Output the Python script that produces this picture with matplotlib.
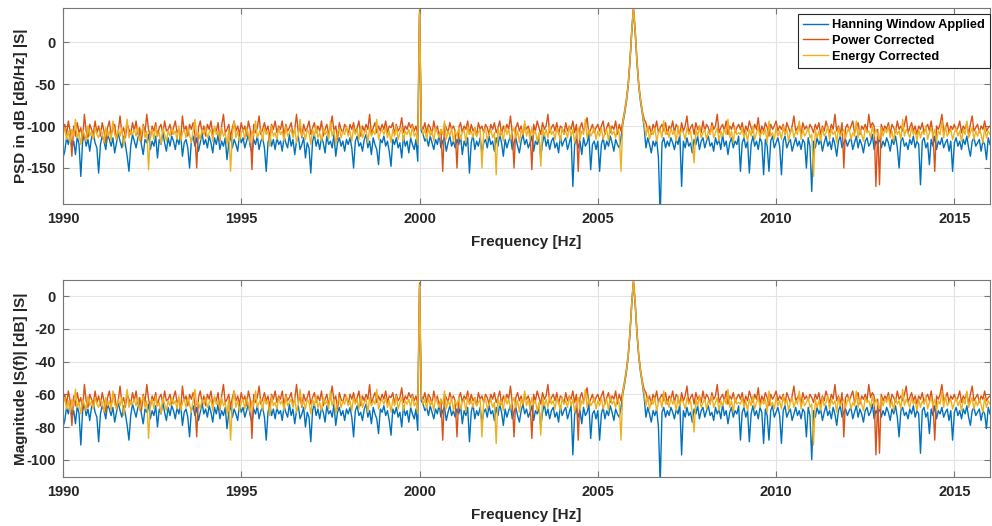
import numpy as np
import matplotlib
matplotlib.use('Agg')
import matplotlib.pyplot as plt

plt.rcParams['font.family'] = ['Liberation Sans', 'DejaVu Sans']
plt.rcParams['font.weight'] = 'bold'
plt.rcParams['axes.labelweight'] = 'bold'
plt.rcParams['axes.unicode_minus'] = False

# 频谱幅值 |S(f)| [dB]，频率分辨率 0.05 Hz，从 1990 Hz 开始
f0 = 1990.0
df = 0.05

mag_hanning = [
    -80, -76, -68, -72, -66, -74, -70, -78, -67, -72, -91, -70, -66, -73, -69, -76, -68, -65, -71, -74,
    -89, -72, -67, -70, -75, -66, -69, -73, -68, -77, -71, -65, -70, -74, -67, -72, -79, -88, -73, -66,
    -70, -74, -68, -65, -72, -78, -69, -71, -66, -75, -70, -73, -67, -80, -69, -72, -65, -71, -76, -68,
    -73, -67, -70, -75, -68, -72, -66, -79, -71, -69, -74, -86, -70, -67, -73, -68, -76, -71, -65, -72,
    -69, -74, -67, -71, -77, -68, -72, -66, -75, -70, -73, -68, -81, -71, -67, -74, -69, -72, -76, -66,
    -71, -68, -74, -70, -66, -73, -77, -69, -72, -67, -75, -70, -68, -74, -88, -71, -66, -73, -69, -75,
    -68, -72, -70, -76, -67, -71, -74, -66, -73, -69, -78, -70, -67, -75, -72, -68, -80, -71, -74, -89,
    -70, -66, -73, -69, -75, -68, -71, -77, -67, -72, -70, -74, -66, -79, -71, -68, -73, -70, -76, -69,
    -72, -68, -74, -86, -70, -67, -73, -71, -76, -69, -66, -74, -70, -78, -68, -72, -75, -84, -69, -71,
    -67, -73, -70, -76, -85, -69, -72, -68, -74, -71, -80, -67, -73, -70, -77, -68, -72, -75, -69, -82,
    5, -64, -66, -70, -68, -73, -67, -71, -75, -69, -72, -66, -74, -70, -68, -76, -71, -67, -73, -70,
    -74, -69, -72, -67, -78, -70, -73, -68, -89, -71, -66, -75, -70, -73, -68, -77, -71, -69, -74, -67,
    -72, -70, -76, -68, -73, -66, -71, -79, -69, -74, -70, -67, -75, -71, -68, -73, -77, -70, -66, -72,
    -69, -74, -71, -67, -76, -70, -72, -68, -80, -71, -66, -73, -69, -75, -70, -68, -74, -71, -77, -67,
    -73, -70, -68, -75, -71, -67, -97, -72, -69, -74, -70, -78, -68, -73, -71, -66, -87, -72, -70, -75,
    -70, -88, -72, -68, -75, -70, -73, -67, -71, -76, -69, -72, -74, -68, -60, -54, -47, -38, -24, -6,
    8, -6, -24, -38, -47, -54, -62, -74, -68, -72, -77, -70, -73, -69, -80, -115, -71, -68, -74, -70,
    -73, -68, -71, -75, -69, -72, -66, -97, -70, -74, -68, -73, -71, -77, -69, -72, -67, -75, -70, -68,
    -74, -70, -67, -73, -71, -76, -68, -72, -69, -75, -66, -73, -70, -78, -71, -68, -74, -70, -72, -67,
    -88, -71, -68, -74, -70, -89, -72, -67, -73, -70, -75, -68, -71, -90, -69, -73, -88, -70, -67, -74,
    -71, -68, -73, -90, -70, -67, -74, -71, -69, -76, -72, -68, -73, -70, -75, -69, -71, -86, -68, -73,
    -100, -70, -74, -68, -72, -69, -76, -71, -67, -73, -70, -75, -68, -72, -79, -70, -67, -74, -71, -69,
    -73, -70, -68, -75, -71, -67, -74, -69, -72, -77, -70, -68, -73, -71, -66, -75, -70, -72, -68, -74,
    -70, -73, -68, -71, -76, -69, -72, -67, -74, -86, -70, -68, -73, -71, -75, -69, -72, -67, -74, -70,
    -72, -96, -70, -68, -74, -71, -84, -69, -73, -67, -75, -70, -72, -68, -74, -71, -69, -76, -70, -88,
    -71, -68, -73, -70, -75, -69, -72, -67, -74, -79, -70, -68, -73, -71, -69, -76, -70, -72, -81, -68,
    -72,
]

mag_power = [
    -63, -60, -66, -58, -64, -79, -61, -67, -59, -65, -62, -70, -54, -64, -68, -60, -63, -66, -58, -65,
    -61, -67, -59, -64, -71, -62, -58, -66, -63, -60, -69, -64, -55, -65, -62, -68, -60, -63, -66, -59,
    -64, -58, -66, -62, -70, -60, -65, -54, -63, -68, -61, -64, -59, -67, -62, -60, -66, -58, -64, -63,
    -60, -66, -62, -58, -65, -63, -69, -55, -64, -61, -67, -60, -63, -59, -66, -86, -62, -58, -65, -61,
    -67, -60, -63, -58, -66, -62, -64, -59, -70, -61, -54, -65, -63, -60, -68, -62, -58, -64, -61, -66,
    -59, -64, -61, -67, -58, -63, -87, -60, -65, -62, -55, -66, -63, -59, -64, -61, -68, -60, -63, -58,
    -65, -61, -63, -58, -67, -60, -64, -62, -59, -66, -63, -54, -65, -61, -68, -60, -64, -62, -58, -66,
    -62, -59, -65, -61, -64, -58, -67, -63, -60, -66, -62, -55, -64, -61, -69, -59, -63, -65, -60, -62,
    -66, -60, -63, -59, -65, -62, -58, -67, -61, -64, -60, -63, -54, -66, -62, -59, -65, -61, -64, -60,
    -63, -58, -65, -61, -62, -59, -66, -60, -64, -62, -56, -65, -61, -63, -59, -62, -60, -64, -61, -66,
    8, -61, -63, -59, -65, -60, -62, -66, -58, -64, -61, -67, -63, -88, -60, -62, -65, -59, -63, -61,
    -64, -86, -62, -59, -65, -61, -63, -58, -66, -60, -64, -62, -67, -59, -63, -61, -65, -60, -62, -66,
    -60, -63, -59, -65, -62, -58, -66, -61, -64, -60, -63, -55, -65, -86, -62, -59, -64, -61, -67, -60,
    -63, -61, -65, -87, -60, -64, -58, -62, -66, -59, -63, -61, -54, -65, -62, -60, -64, -59, -66, -61,
    -62, -66, -59, -64, -61, -63, -58, -65, -60, -88, -62, -59, -64, -61, -56, -66, -63, -60, -65, -62,
    -60, -64, -61, -58, -66, -62, -59, -65, -61, -63, -58, -66, -60, -64, -58, -52, -45, -36, -22, -4,
    10, -4, -22, -36, -45, -52, -57, -59, -64, -61, -66, -60, -63, -58, -65, -62, -60, -64, -59, -66,
    -61, -63, -58, -65, -60, -62, -67, -59, -64, -61, -55, -65, -62, -60, -66, -59, -63, -61, -65, -58,
    -64, -60, -62, -66, -59, -63, -61, -54, -65, -62, -60, -64, -58, -66, -61, -63, -59, -65, -62, -60,
    -63, -59, -66, -61, -64, -58, -62, -65, -60, -63, -56, -66, -61, -64, -59, -62, -67, -60, -63, -61,
    -58, -64, -61, -63, -60, -66, -59, -62, -65, -61, -55, -64, -62, -60, -66, -59, -63, -61, -64, -60,
    -62, -65, -60, -63, -59, -66, -61, -64, -58, -62, -65, -60, -63, -54, -64, -61, -66, -59, -86, -62,
    -60, -64, -61, -58, -65, -62, -59, -66, -61, -63, -60, -64, -54, -62, -59, -61, -97, -63, -96, -60,
    -64, -61, -63, -59, -66, -60, -62, -65, -58, -63, -61, -64, -60, -55, -65, -62, -59, -64, -61, -66,
    -61, -63, -59, -65, -62, -60, -64, -58, -66, -88, -61, -63, -60, -54, -64, -62, -59, -65, -61, -63,
    -60, -64, -62, -58, -65, -61, -63, -59, -66, -60, -55, -64, -62, -60, -65, -61, -63, -58, -64, -62,
    -61,
]

mag_energy = [
    -66, -62, -69, -64, -71, -63, -67, -57, -68, -65, -72, -63, -66, -70, -61, -67, -64, -69, -62, -66,
    -68, -63, -65, -71, -62, -67, -64, -70, -58, -66, -69, -63, -67, -62, -73, -65, -57, -68, -64, -66,
    -63, -67, -62, -70, -65, -61, -68, -64, -87, -66, -63, -69, -61, -67, -65, -72, -62, -66, -70, -64,
    -67, -62, -66, -64, -69, -61, -70, -65, -63, -68, -62, -66, -71, -64, -57, -67, -65, -69, -63, -66,
    -62, -68, -65, -63, -70, -61, -66, -64, -69, -62, -67, -65, -72, -63, -88, -66, -58, -68, -64, -70,
    -65, -63, -69, -62, -66, -71, -64, -67, -58, -68, -65, -63, -70, -62, -66, -64, -73, -61, -67, -65,
    -69, -62, -66, -64, -70, -61, -67, -65, -63, -68, -62, -71, -66, -57, -67, -64, -69, -63, -65, -72,
    -63, -67, -61, -68, -65, -70, -62, -66, -64, -69, -58, -67, -63, -72, -65, -62, -68, -64, -66, -61,
    -67, -64, -70, -62, -66, -63, -69, -61, -68, -65, -63, -71, -62, -67, -64, -66, -57, -69, -65, -63,
    -66, -62, -68, -64, -71, -63, -67, -61, -69, -65, -62, -70, -64, -66, -63, -68, -61, -67, -65, -72,
    7, -61, -66, -63, -69, -62, -67, -64, -70, -62, -65, -68, -63, -66, -58, -69, -64, -67, -62, -70,
    -64, -67, -62, -69, -65, -63, -71, -61, -66, -64, -68, -62, -67, -65, -63, -86, -64, -62, -69, -66,
    -63, -68, -65, -90, -62, -67, -64, -70, -61, -66, -63, -69, -65, -62, -68, -64, -71, -63, -66, -58,
    -67, -63, -69, -62, -66, -64, -70, -65, -85, -62, -67, -63, -68, -61, -66, -64, -69, -62, -65, -70,
    -62, -66, -64, -68, -61, -67, -63, -71, -65, -62, -69, -64, -66, -57, -68, -63, -67, -65, -62, -69,
    -64, -67, -62, -69, -65, -63, -70, -61, -66, -64, -68, -62, -65, -88, -59, -53, -46, -37, -23, -5,
    9, -5, -23, -37, -46, -53, -60, -67, -61, -69, -64, -66, -62, -70, -65, -63, -68, -58, -66, -64,
    -68, -62, -66, -64, -70, -61, -67, -63, -65, -69, -62, -66, -64, -71, -83, -63, -67, -61, -68, -65,
    -63, -69, -64, -66, -61, -68, -65, -62, -70, -64, -67, -63, -66, -57, -68, -64, -71, -62, -66, -65,
    -66, -62, -68, -64, -70, -63, -67, -61, -69, -65, -62, -68, -64, -66, -63, -71, -58, -67, -65, -69,
    -62, -67, -64, -69, -61, -66, -63, -70, -65, -62, -68, -64, -66, -58, -69, -63, -67, -65, -62, -68,
    -66, -91, -63, -68, -64, -70, -62, -67, -65, -61, -69, -63, -66, -64, -71, -62, -67, -65, -63, -68,
    -64, -62, -69, -65, -67, -58, -68, -63, -66, -70, -62, -65, -64, -68, -61, -67, -63, -66, -69, -62,
    -67, -63, -65, -61, -68, -64, -70, -62, -66, -64, -69, -57, -67, -63, -65, -68, -62, -66, -64, -70,
    -63, -68, -64, -66, -61, -69, -65, -62, -67, -63, -70, -64, -66, -58, -68, -61, -67, -65, -63, -69,
    -65, -62, -67, -64, -70, -63, -66, -58, -68, -65, -62, -69, -64, -67, -63, -66, -71, -62, -68, -64,
    -66,
]

labels = ['Hanning Window Applied', 'Power Corrected', 'Energy Corrected']
colors = ['#0072BD', '#D95319', '#EDB120']  # matlab 默认配色


def to_psd(mag):
    # 幅值 dB 换算到 PSD dB/Hz
    return 2 * np.asarray(mag, dtype=float) + 22


def style_axes(ax, ylabel, yticks, ylim):
    ax.set_xlim(1990, 2016)
    ax.set_ylim(*ylim)
    ax.set_xticks([1990, 1995, 2000, 2005, 2010, 2015])
    ax.set_yticks(yticks)
    ax.grid(True, color='#e3e3e3', linewidth=0.8)
    ax.set_axisbelow(True)
    ax.tick_params(direction='in', top=True, right=True, length=4,
                   colors='#777777', labelsize=10.5, labelcolor='#262626')
    ax.tick_params(axis='x', pad=6)
    ax.tick_params(axis='y', pad=5)
    for s in ax.spines.values():
        s.set_color('#777777')
        s.set_linewidth(0.8)
    ax.set_xlabel('Frequency [Hz]', fontsize=11, color='#262626', labelpad=6)
    ax.set_ylabel(ylabel, fontsize=11, color='#262626', labelpad=-1)
    for t in ax.get_xticklabels() + ax.get_yticklabels():
        t.set_fontweight('bold')


fig = plt.figure(figsize=(9.92, 5.26), dpi=100)
ax1 = fig.add_axes([0.0635, 0.612, 0.9345, 0.3726])
ax2 = fig.add_axes([0.0635, 0.0932, 0.9345, 0.3745])

series = [mag_hanning, mag_power, mag_energy]
for mag, lab, c in zip(series, labels, colors):
    freq = f0 + df * np.arange(len(mag))
    ax1.plot(freq, to_psd(mag), color=c, linewidth=1.0, label=lab)
    ax2.plot(freq, mag, color=c, linewidth=1.0, label=lab)

style_axes(ax1, 'PSD in dB [dB/Hz] |S|', [-150, -100, -50, 0], (-193, 40.5))
style_axes(ax2, 'Magnitude |S(f)| [dB] |S|', [-100, -80, -60, -40, -20, 0], (-110.5, 9.8))

leg = ax1.legend(loc='upper right', bbox_to_anchor=(1.0, 0.97), borderaxespad=0,
                 fontsize=9.2, frameon=True, fancybox=False, framealpha=1,
                 handlelength=2.0, handletextpad=0.3, labelspacing=0.3, borderpad=0.4)
leg.get_frame().set_edgecolor('#262626')
leg.get_frame().set_linewidth(0.8)
for t in leg.get_texts():
    t.set_fontweight('bold')

fig.savefig('out.png', dpi=100)
